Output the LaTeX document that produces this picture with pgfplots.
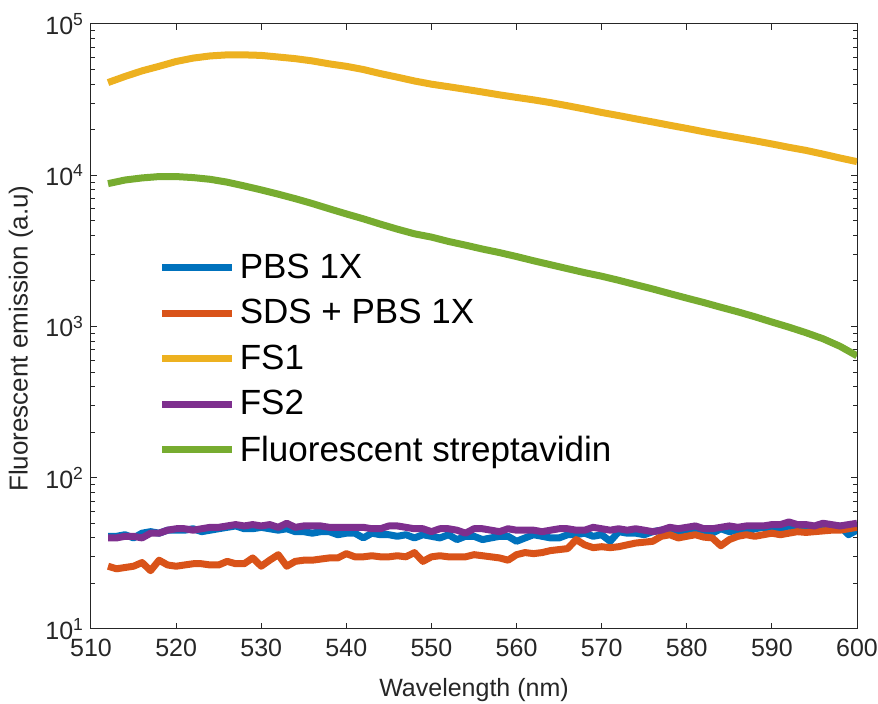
\documentclass[border=0pt]{standalone}
\usepackage{fontspec}
\setmainfont{Liberation Sans}
\usepackage{pgfplots}
\pgfplotsset{compat=1.18}
\definecolor{c1}{rgb}{0,0.447,0.741}
\definecolor{c2}{rgb}{0.85,0.325,0.098}
\definecolor{c3}{rgb}{0.929,0.694,0.125}
\definecolor{c4}{rgb}{0.494,0.184,0.556}
\definecolor{c5}{rgb}{0.466,0.674,0.188}
\definecolor{axgray}{rgb}{0.15,0.15,0.15}
\begin{document}
\begin{tikzpicture}
\begin{axis}[
  scale only axis,
  width=383pt, height=302.5pt,
  ymode=log,
  xmin=510, xmax=600, ymin=10, ymax=100000,
  xtick={510,520,...,600},
  ytick={10,100,1000,10000,100000},
  yticklabels={10\textsuperscript{1},10\textsuperscript{2},10\textsuperscript{3},10\textsuperscript{4},10\textsuperscript{5}},
  xticklabel style={/pgf/number format/assume math mode=true, /pgf/number format/1000 sep={}, yshift=-1.5pt},
  tick label style={font=\fontsize{12.5}{14}\selectfont, text=axgray},
  tick align=inside,
  major tick length=3pt, minor tick length=1.8pt,
  axis line style={axgray, line width=0.5pt},
  every tick/.style={axgray, line width=0.5pt},
  xlabel={Wavelength (nm)},
  ylabel={Fluorescent emission (a.u)},
  xlabel style={font=\fontsize{12.5}{14}\selectfont, text=axgray, at={(axis description cs:0.5,-0.1008)}, anchor=center},
  ylabel style={font=\fontsize{13}{15}\selectfont, text=axgray, at={(axis description cs:-0.0914,0.48)}, anchor=center},
  legend style={draw=none, fill=none, at={(0.088,0.627)}, anchor=north west,
    font=\fontsize{17.5}{20}\selectfont, row sep=5pt, inner sep=0pt},
  legend cell align=left,
  legend image code/.code={\draw[#1, line width=3.5pt] (0pt,0pt) -- (35pt,0pt);},
  every axis plot/.append style={line width=3.5pt, line join=round},
]
\coordinate (sw) at (rel axis cs:0,0);
\coordinate (ne) at (rel axis cs:1,1);
\addplot[c1] coordinates {
(512,41)(513,41)(514,42)(515,40)(516,43)(517,44)(518,43)(519,45)(520,45)(521,45)
(522,46)(523,44)(524,45)(525,46)(526,47)(527,48)(528,46)(529,46)(530,47)(531,46)
(532,45)(533,46)(534,44)(535,44)(536,43)(537,44)(538,44)(539,42)(540,43)(541,43)
(542,40)(543,43)(544,42)(545,42)(546,41)(547,42)(548,40)(549,42)(550,41)(551,40)
(552,42)(553,39)(554,41)(555,41)(556,39)(557,40)(558,41)(559,41)(560,38)(561,40)
(562,42)(563,41)(564,40)(565,40)(566,42)(567,42)(568,43)(569,41)(570,42)(571,38)
(572,44)(573,43)(574,43)(575,42)(576,44)(577,45)(578,44)(579,44)(580,43)(581,45)
(582,45)(583,43)(584,46)(585,44)(586,45)(587,44)(588,46)(589,47)(590,45)(591,46)
(592,48)(593,46)(594,47)(595,47)(596,46)(597,47)(598,48)(599,42)(600,45)
};
\addlegendentry{PBS 1X}
\addplot[c2] coordinates {
(512,26)(513,25)(514,25.5)(515,26)(516,27.5)(517,24.3)(518,28.5)(519,26.5)(520,26)(521,26.5)
(522,27)(523,27)(524,26.5)(525,26.5)(526,28)(527,27)(528,27)(529,29.5)(530,26)(531,28.5)
(532,31)(533,26)(534,28)(535,28.5)(536,28.5)(537,29)(538,29.5)(539,29.5)(540,31.5)(541,30)
(542,30)(543,30.5)(544,30)(545,30)(546,30.5)(547,30)(548,32)(549,28)(550,30)(551,30.5)
(552,30)(553,30)(554,30)(555,31)(556,30.5)(557,30)(558,29.5)(559,28.5)(560,31)(561,32)
(562,31.5)(563,32)(564,33)(565,33.5)(566,34)(567,39)(568,36)(569,34.5)(570,35)(571,34.5)
(572,35)(573,36)(574,37)(575,37.5)(576,38)(577,41)(578,42)(579,40)(580,41)(581,42)
(582,40.5)(583,40)(584,35.5)(585,39)(586,41)(587,42)(588,41)(589,42)(590,43)(591,42)
(592,43)(593,44)(594,43.5)(595,44)(596,44.5)(597,45)(598,45)(599,46)(600,47)
};
\addlegendentry{SDS + PBS 1X}
\addplot[c3] coordinates {
(512,41000)(514,45000)(516,49000)(518,52500)(520,56500)(522,59500)(524,61500)(526,62500)
(528,62500)(530,62000)(532,60500)(534,59000)(536,57000)(538,54500)(540,52500)(542,50000)
(544,47000)(546,44500)(548,42000)(550,40000)(552,38500)(554,37000)(556,35500)(558,34000)
(560,32700)(562,31500)(564,30200)(566,28800)(568,27400)(570,26000)(572,24800)(574,23600)
(576,22500)(578,21400)(580,20400)(582,19400)(584,18500)(586,17700)(588,16900)(590,16100)
(592,15300)(594,14600)(596,13800)(598,13000)(600,12300)
};
\addlegendentry{FS1}
\addplot[c4] coordinates {
(512,40)(513,40)(514,41)(515,41)(516,40)(517,43)(518,43)(519,45)(520,46)(521,46)
(522,45)(523,46)(524,47)(525,47)(526,48)(527,49)(528,48)(529,49)(530,48)(531,49)
(532,47)(533,50)(534,47)(535,48)(536,48)(537,48)(538,47)(539,47)(540,47)(541,47)
(542,47)(543,46)(544,46)(545,48)(546,48)(547,47)(548,46)(549,46)(550,44)(551,46)
(552,46)(553,45)(554,43)(555,46)(556,46)(557,45)(558,44)(559,46)(560,45)(561,45)
(562,45)(563,44)(564,45)(565,46)(566,46)(567,45)(568,45)(569,47)(570,46)(571,45)
(572,46)(573,45)(574,46)(575,45)(576,44)(577,45)(578,47)(579,46)(580,47)(581,48)
(582,46)(583,46)(584,47)(585,48)(586,47)(587,48)(588,48)(589,48)(590,49)(591,49)
(592,51)(593,49)(594,49)(595,48)(596,50)(597,49)(598,48)(599,49)(600,50)
};
\addlegendentry{FS2}
\addplot[c5] coordinates {
(512,8800)(514,9300)(516,9600)(518,9800)(520,9800)(522,9650)(524,9400)(526,9000)
(528,8500)(530,8000)(532,7500)(534,7000)(536,6500)(538,6000)(540,5550)(542,5150)
(544,4750)(546,4400)(548,4100)(550,3900)(552,3650)(554,3450)(556,3250)(558,3080)
(560,2900)(562,2720)(564,2560)(566,2410)(568,2270)(570,2150)(572,2020)(574,1890)
(576,1770)(578,1650)(580,1540)(582,1440)(584,1340)(586,1250)(588,1160)(590,1070)
(592,990)(594,910)(596,830)(598,740)(600,640)
};
\addlegendentry{Fluorescent streptavidin}
\end{axis}
\pgfresetboundingbox
\path ([shift={(-45.5pt,-37.5pt)}]sw) rectangle ([shift={(10.5pt,12pt)}]ne);
\end{tikzpicture}
\end{document}
